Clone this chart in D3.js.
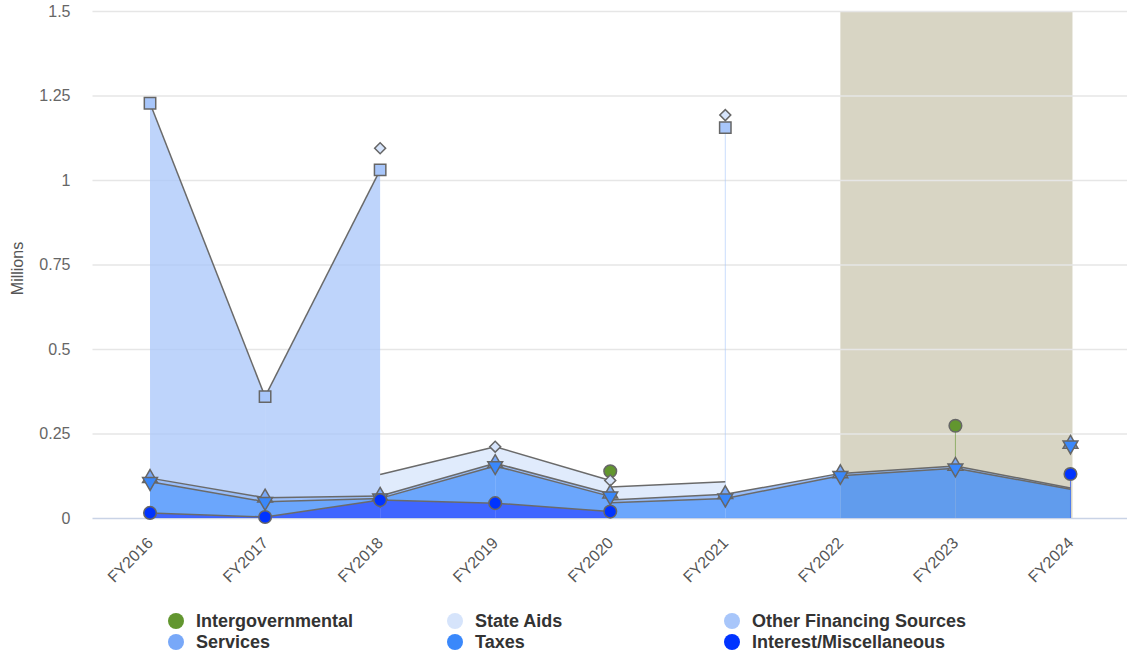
<!DOCTYPE html>
<html>
<head>
<meta charset="utf-8">
<script src="https://cdnjs.cloudflare.com/ajax/libs/d3/7.8.5/d3.min.js"></script>
<style>
  html, body { margin: 0; padding: 0; background: #fff; }
  svg { display: block; }
</style>
</head>
<body>
<svg id="chart" width="1127" height="654"></svg>
<script>
// ---- Data (millions) ----
const categories = ["FY2016","FY2017","FY2018","FY2019","FY2020","FY2021","FY2022","FY2023","FY2024"];
// stacking order bottom -> top
const interestMisc      = [0.015, 0.003, 0.053, 0.044, 0.019, null, null, null, 0.130];
const taxes             = [0.092, 0.045, 0.005, 0.110, 0.045, 0.058, 0.125, 0.147, 0.085];
const services          = [0.011, 0.012, 0.007, 0.008, 0.008, 0.012, 0.007, 0.007, 0.004];
const otherFinancing    = [1.109, 0.299, 0.965, null, null, 1.085, null, null, null];
const stateAids         = [null, null, 0.064, 0.049, 0.039, 0.037, null, null, null];
const intergovernmental = [null, null, null, null, 0.027, null, null, 0.119, null];
const yTicks = [0, 0.25, 0.5, 0.75, 1, 1.25, 1.5];
const yTickLabels = ["0","0.25","0.5","0.75","1","1.25","1.5"];
const bandFrom = "FY2022", bandTo = "FY2024";
const legendOrder = ["Intergovernmental","State Aids","Other Financing Sources","Services","Taxes","Interest/Miscellaneous"];

const series = [
  {name:"Interest/Miscellaneous", values: interestMisc, color:"#0033ff", marker:"circle"},
  {name:"Taxes", values: taxes, color:"#3a88fb", marker:"tridown"},
  {name:"Services", values: services, color:"#78a8f8", marker:"triup"},
  {name:"Other Financing Sources", values: otherFinancing, color:"#a8c6fa", marker:"square"},
  {name:"State Aids", values: stateAids, color:"#d6e4fb", marker:"diamond"},
  {name:"Intergovernmental", values: intergovernmental, color:"#62962f", marker:"circle"}
];

const svg = d3.select("#chart");
const plot = {left: 92.5, right: 1128, top: 11, bottom: 518};

const xb = d3.scaleBand().domain(categories).range([plot.left, plot.right]).padding(0);
const xc = c => xb(c) + xb.bandwidth() / 2;
const y = d3.scaleLinear().domain([0, 1.5]).range([plot.bottom, plot.top]);

// plot band
svg.append("rect")
  .attr("x", xc(bandFrom)).attr("y", plot.top)
  .attr("width", xc(bandTo) - xc(bandFrom) + 2)
  .attr("height", plot.bottom - plot.top)
  .attr("fill", "#d8d5c4");

// gridlines + y labels
const yAxis = d3.axisLeft(y).tickValues(yTicks)
  .tickFormat((d, i) => yTickLabels[i])
  .tickSize(-(plot.right - plot.left)).tickPadding(22);
const gy = svg.append("g").attr("transform", `translate(${plot.left},0)`).call(yAxis);
gy.select(".domain").remove();
gy.selectAll(".tick line").attr("stroke", d => d === 0 ? "#c9d3e6" : "#e6e6e6").attr("stroke-width", 1.5);
gy.selectAll(".tick text").attr("fill", "#666").style("font", "16px 'Liberation Sans', Arial, sans-serif");

svg.append("text")
  .attr("transform", `translate(23,${(plot.top + plot.bottom) / 2 + 4}) rotate(-90)`)
  .attr("text-anchor", "middle").attr("fill", "#555")
  .style("font", "16px 'Liberation Sans', Arial, sans-serif")
  .text("Millions");

// x labels
const xAxis = d3.axisBottom(xb).tickSize(0).tickPadding(0);
const gx = svg.append("g").attr("transform", `translate(0,${plot.bottom})`).call(xAxis);
gx.select(".domain").remove();
gx.selectAll(".tick text")
  .attr("text-anchor", "end")
  .attr("fill", "#555")
  .style("font", "16px 'Liberation Sans', Arial, sans-serif")
  .attr("transform", "translate(0,22) rotate(-45)")
  .attr("dy", "0.35em").attr("y", 0).attr("x", 0);

// stacking helpers
const n = categories.length;
const has = (s, i) => series[s].values[i] !== null && series[s].values[i] !== undefined;
function markerBase(s, i) {
  let b = 0;
  for (let r = 0; r < s; r++) if (has(r, i)) b += series[r].values[i];
  return b;
}
function segBase(s, i, j) {
  // base at category i for segment (i,j), only lower series present at both ends
  let b = 0;
  for (let r = 0; r < s; r++) if (has(r, i) && has(r, j)) b += series[r].values[i];
  return b;
}

const areaG = svg.append("g");
series.forEach((se, s) => {
  for (let i = 0; i < n - 1; i++) {
    const j = i + 1;
    if (!(has(s, i) && has(s, j))) continue;
    const b0 = segBase(s, i, j), b1 = segBase(s, j, i);
    const t0 = b0 + se.values[i], t1 = b1 + se.values[j];
    const x0 = xc(categories[i]), x1 = xc(categories[j]);
    const poly = [[x0, y(t0)], [x1, y(t1)], [x1, y(b1)], [x0, y(b0)]];
    areaG.append("path")
      .attr("d", d3.line()(poly) + "Z")
      .attr("fill", se.color).attr("fill-opacity", 0.75);
  }
  // isolated points -> thin vertical stroke
  for (let i = 0; i < n; i++) {
    if (!has(s, i)) continue;
    const prev = i > 0 && has(s, i - 1), next = i < n - 1 && has(s, i + 1);
    if (prev || next) continue;
    const b = markerBase(s, i);
    areaG.append("line")
      .attr("x1", xc(categories[i])).attr("x2", xc(categories[i]))
      .attr("y1", y(b)).attr("y2", y(b + se.values[i]))
      .attr("stroke", se.color).attr("stroke-opacity", 0.6).attr("stroke-width", 1);
  }
});

// lines on top of areas
const lineG = svg.append("g");
series.forEach((se, s) => {
  for (let i = 0; i < n - 1; i++) {
    const j = i + 1;
    if (!(has(s, i) && has(s, j))) continue;
    const t0 = segBase(s, i, j) + se.values[i], t1 = segBase(s, j, i) + se.values[j];
    lineG.append("path")
      .attr("d", d3.line()([[xc(categories[i]), y(t0)], [xc(categories[j]), y(t1)]]))
      .attr("fill", "none").attr("stroke", "#6a6a6a").attr("stroke-width", 1.5);
  }
});

// markers (top series first so lower ones draw over)
const sym = {
  circle: {type: d3.symbolCircle, size: 125, rot: 0},
  square: {type: d3.symbolSquare, size: 130, rot: 0},
  diamond: {type: d3.symbolSquare, size: 60, rot: 45},
  triup: {type: d3.symbolTriangle, size: 95, rot: 0},
  tridown: {type: d3.symbolTriangle, size: 95, rot: 180}
};
const markG = svg.append("g");
for (let s = series.length - 1; s >= 0; s--) {
  const se = series[s];
  const m = sym[se.marker];
  for (let i = 0; i < n; i++) {
    if (!has(s, i)) continue;
    const v = markerBase(s, i) + se.values[i];
    markG.append("path")
      .attr("d", d3.symbol().type(m.type).size(m.size)())
      .attr("transform", `translate(${xc(categories[i])},${y(v)}) rotate(${m.rot})`)
      .attr("fill", se.color).attr("stroke", "#666").attr("stroke-width", 1.5);
  }
}

// legend
const legX = [176, 455, 732], legY = [621, 642];
const byName = Object.fromEntries(series.map(d => [d.name, d]));
legendOrder.forEach((name, k) => {
  const cx = legX[k % 3], cy = legY[Math.floor(k / 3)];
  const g = svg.append("g");
  g.append("circle").attr("cx", cx).attr("cy", cy).attr("r", 8).attr("fill", byName[name].color);
  g.append("text").attr("x", cx + 20).attr("y", cy + 6)
    .attr("fill", "#333")
    .style("font", "bold 18px 'Liberation Sans', Arial, sans-serif")
    .text(name);
});
</script>
</body>
</html>
